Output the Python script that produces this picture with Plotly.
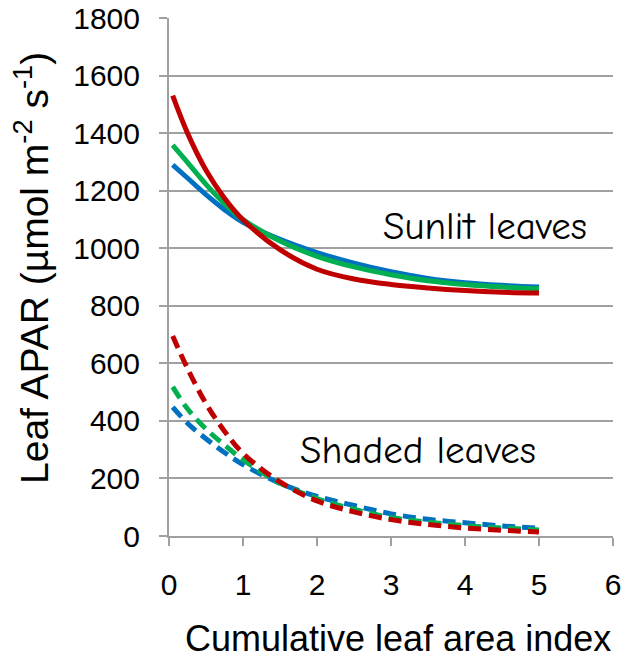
import plotly.graph_objects as go

lai = [0.05, 0.25, 0.5, 0.75, 1.0, 1.5, 2.0, 2.5, 3.0, 3.5, 4.0, 4.5, 5.0]

sunlit_blue = [1290, 1244, 1186, 1134, 1090, 1031, 985, 948, 918, 895, 880, 871, 865]
sunlit_green = [1358, 1298, 1222, 1155, 1100, 1025, 972, 935, 908, 887, 874, 865, 859]
sunlit_red = [1530, 1400, 1271, 1174, 1099, 995, 927, 893, 874, 862, 853, 847, 844]

shaded_blue = [448, 392, 338, 290, 248, 183, 138, 106, 77, 58, 46, 35, 27]
shaded_green = [518, 442, 372, 316, 265, 184, 130, 93, 64, 48, 36, 28, 21]
shaded_red = [695, 582, 460, 364, 287, 188, 122, 84, 57, 40, 28, 20, 14]

x_ticks = [0, 1, 2, 3, 4, 5, 6]
y_ticks = [0, 200, 400, 600, 800, 1000, 1200, 1400, 1600, 1800]

colors = {"blue": "#0070C0", "green": "#00B050", "red": "#C00000"}

fig = go.Figure()
for name, ys in [("blue", sunlit_blue), ("green", sunlit_green), ("red", sunlit_red)]:
    fig.add_trace(go.Scatter(x=lai, y=ys, mode="lines",
                             line=dict(color=colors[name], width=5, shape="spline"),
                             showlegend=False, hoverinfo="skip"))
for name, ys in [("blue", shaded_blue), ("green", shaded_green), ("red", shaded_red)]:
    fig.add_trace(go.Scatter(x=lai, y=ys, mode="lines",
                             line=dict(color=colors[name], width=5, shape="spline", dash="13px,7px"),
                             showlegend=False, hoverinfo="skip"))

tick_font = dict(family="Liberation Sans, Arial, sans-serif", size=30, color="#000000")
ann_font = dict(family="Comic Sans MS, Comic Neue, Lato, sans-serif", size=39, color="#000000")

L, R, T, B = 169, 12, 18, 123
W, H = 625, 659
pw, ph = W - L - R, H - T - B

def px_x(p):
    return (p - L) / pw

def px_y(p):
    return (H - B - p) / ph

fig.add_annotation(x=4.27, y=1076, text="Sunlit leaves", showarrow=False, font=ann_font)
fig.add_annotation(x=3.36, y=297, text="Shaded leaves", showarrow=False, font=ann_font)

fig.add_annotation(xref="paper", yref="paper", x=px_x(398), y=px_y(638),
                   text="Cumulative leaf area index", showarrow=False,
                   xanchor="center", yanchor="middle",
                   font=dict(family="Liberation Sans, Arial, sans-serif", size=36, color="#000000"))
fig.add_annotation(xref="paper", yref="paper", x=px_x(31), y=px_y(268),
                   text="Leaf APAR (µmol m<sup>-2</sup> s<sup>-1</sup>)", showarrow=False,
                   textangle=-90, xanchor="center", yanchor="middle",
                   font=dict(family="Liberation Sans, Arial, sans-serif", size=39, color="#000000"))

fig.update_layout(
    width=W, height=H,
    margin=dict(l=L, r=R, t=T, b=B),
    paper_bgcolor="white", plot_bgcolor="white",
    font=tick_font,
    xaxis=dict(range=[0, 6], tickvals=x_ticks, showgrid=False, automargin=False,
               showline=True, linecolor="#A0A0A0", linewidth=2,
               ticks="outside", ticklen=8, tickwidth=2, tickcolor="#A0A0A0",
               ticklabelstandoff=13, zeroline=False, tickfont=tick_font),
    yaxis=dict(range=[0, 1800], tickvals=y_ticks, showgrid=True, automargin=False,
               gridcolor="#A0A0A0", gridwidth=2,
               showline=True, linecolor="#A0A0A0", linewidth=2,
               ticks="outside", ticklen=8, tickwidth=2, tickcolor="#A0A0A0",
               ticklabelstandoff=13, zeroline=False, tickfont=tick_font),
)

fig.write_html("out.html")
